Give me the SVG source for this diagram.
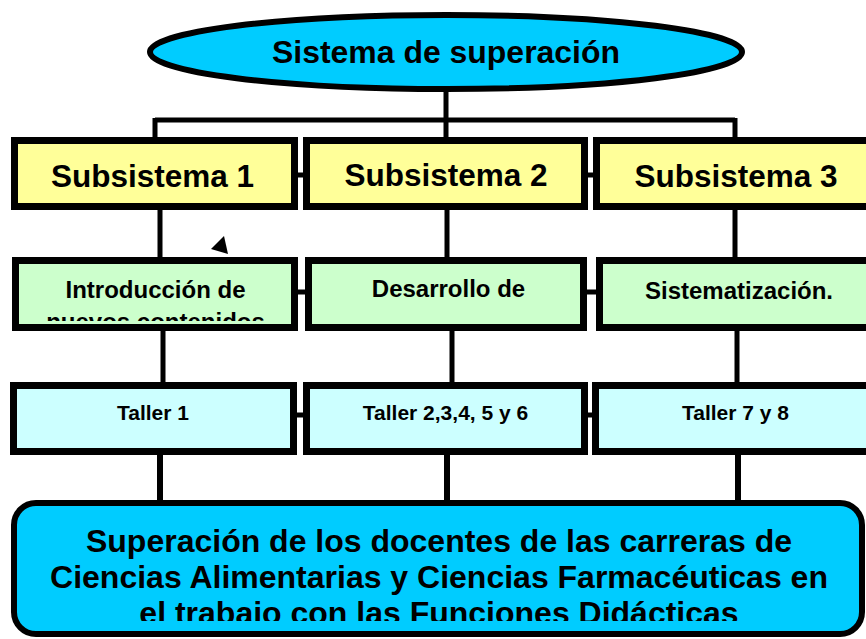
<svg xmlns="http://www.w3.org/2000/svg" width="866" height="639" viewBox="0 0 866 639">
<style>
text{font-family:"Liberation Sans",Arial,sans-serif;font-weight:bold;fill:#000;text-anchor:middle}
.box{stroke:#000;stroke-width:7}
.ln{stroke:#000;fill:none}
.sub{fill:#FFFF99}
.grn{fill:#CCFFCC}
.tal{fill:#CCFFFF}
</style>
<defs>
<clipPath id="cg1"><rect x="18" y="264" width="273" height="57"/></clipPath>
<clipPath id="cb"><rect x="17" y="506" width="842" height="115"/></clipPath>
</defs>
<g id="connectors">
<path class="ln" stroke-width="5" d="M446 90V120M155 120H735M155 118V140M446 118V140M735 118V140"/>
<path class="ln" stroke-width="5" d="M12 175H866M12 292H866M12 415H866"/>
<path class="ln" stroke-width="5" d="M160 210V258M447 210V258M735 210V258"/>
<path class="ln" stroke-width="5" d="M163 331V385M452 331V385M737 331V385"/>
<path class="ln" stroke-width="6" d="M160 455V503M447 455V503M738 455V503"/>
<polygon points="211,249 224,236 228,254" fill="#000"/>
</g>
<g id="root">
<ellipse cx="446" cy="52" rx="296" ry="37" fill="#00CCFF" stroke="#000" stroke-width="6"/>
<text x="446" y="63" font-size="31" textLength="348" lengthAdjust="spacingAndGlyphs">Sistema de superación</text>
</g>
<g id="sub1"><rect class="box sub" x="14.5" y="140.5" width="280" height="66"/><text x="152.5" y="187" font-size="31.5">Subsistema 1</text></g>
<g id="sub2"><rect class="box sub" x="306.5" y="140.5" width="278" height="66"/><text x="446" y="186" font-size="31.5">Subsistema 2</text></g>
<g id="sub3"><rect class="box sub" x="596.5" y="140.5" width="280" height="66"/><text x="736" y="187" font-size="31.5">Subsistema 3</text></g>
<g id="g1"><rect class="box grn" x="15.5" y="260.5" width="279" height="67"/>
<g clip-path="url(#cg1)"><text x="155.5" y="298" font-size="24">Introducción de</text><text x="155.5" y="330" font-size="24">nuevos contenidos</text></g></g>
<g id="g2"><rect class="box grn" x="308.5" y="260.5" width="275" height="67"/><text x="448.5" y="297" font-size="24">Desarrollo de</text></g>
<g id="g3"><rect class="box grn" x="599.5" y="260.5" width="275" height="67"/><text x="739" y="299" font-size="24">Sistematización.</text></g>
<g id="t1"><rect class="box tal" x="13.5" y="385.5" width="280" height="66"/><text x="153" y="420" font-size="21">Taller 1</text></g>
<g id="t2"><rect class="box tal" x="306.5" y="385.5" width="278" height="66"/><text x="445.5" y="420" font-size="21">Taller 2,3,4, 5 y 6</text></g>
<g id="t3"><rect class="box tal" x="595.5" y="385.5" width="280" height="66"/><text x="735.5" y="420" font-size="21">Taller 7 y 8</text></g>
<g id="bottom"><rect x="14" y="503" width="848" height="131" rx="22" fill="#00CCFF" stroke="#000" stroke-width="6"/>
<g clip-path="url(#cb)">
<text x="439" y="552" font-size="32">Superación de los docentes de las carreras de</text>
<text x="439" y="588" font-size="32">Ciencias Alimentarias y Ciencias Farmacéuticas en</text>
<text x="439" y="624" font-size="32">el trabajo con las Funciones Didácticas</text>
</g></g>
</svg>
